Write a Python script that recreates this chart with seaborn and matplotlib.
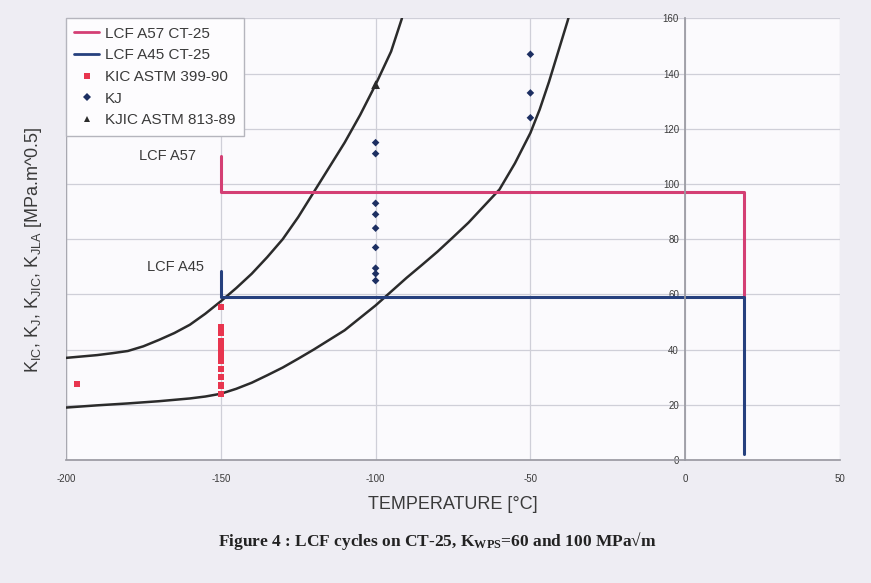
import matplotlib
matplotlib.use("Agg")
import matplotlib.pyplot as plt
import numpy as np
import pandas as pd
import seaborn as sns
from matplotlib.lines import Line2D

# ---------------- data ----------------
curve_a_T = [-200, -195, -190, -185, -180, -175, -170, -165, -160, -155, -150, -145,
             -140, -135, -130, -125, -120, -115, -110, -105, -100, -95, -91.5]
curve_a_K = [37, 37.5, 38, 38.7, 39.5, 41.2, 43.5, 46, 49, 53, 57.5, 62.3,
             67.5, 73.5, 80, 88, 97, 106, 115, 125, 136, 148, 160]

curve_b_T = [-200, -190, -180, -170, -160, -155, -150, -145, -140, -135, -130, -125,
             -120, -115, -110, -105, -100, -95, -90, -85, -80, -75, -70, -65, -60,
             -55, -50, -47, -44, -41, -38, -37.5]
curve_b_K = [19, 19.8, 20.5, 21.3, 22.3, 23, 24, 25.8, 28, 30.7, 33.5, 36.7,
             40, 43.5, 47, 51.5, 56, 61, 66, 70.7, 75.5, 80.7, 86, 92, 98,
             107.5, 118.5, 127, 137, 148, 159, 161]

lcf57_T = [-150, -150, 19, 19]
lcf57_K = [110, 97, 97, 59]
lcf45_T = [-150, -150, 19, 19]
lcf45_K = [68.5, 59, 59, 2]

kic_T = [-196.5] + [-150] * 11
kic_K = [27.5, 55.5, 48, 46, 43, 41, 38.5, 36, 33, 30, 27, 24]

kj_T = [-100] * 9 + [-50] * 3
kj_K = [115, 111, 93, 89, 84, 77, 69.5, 67.5, 65, 147, 133, 124]

kjic_T = [-100]
kjic_K = [136]

x_ticks = [-200, -150, -100, -50, 0, 50]
y_ticks = [0, 20, 40, 60, 80, 100, 120, 140, 160]

legend_labels = ["LCF A57 CT-25", "LCF A45 CT-25", "KIC ASTM 399-90", "KJ", "KJIC ASTM 813-89"]

# ---------------- style ----------------
sns.set_theme(style="white")
plt.rcParams["font.family"] = ["Liberation Sans", "DejaVu Sans"]
plt.rcParams["mathtext.fontset"] = "custom"
plt.rcParams["mathtext.rm"] = "Liberation Sans"
plt.rcParams["mathtext.it"] = "Liberation Sans"
plt.rcParams["mathtext.bf"] = "Liberation Serif:bold"

PINK = "#d43f74"
NAVY = "#26407e"
RED = "#e8354f"
KJBLUE = "#1d2f62"
BLACK = "#2b2b2b"
GRID = "#cfcfd8"
TXT = "#3a3a3a"

fig = plt.figure(figsize=(8.71, 5.83), dpi=100, facecolor="#eeedf3")
ax = fig.add_axes([66 / 871, 1 - 460 / 583, (840 - 66) / 871, (460 - 18.4) / 583])
ax.set_facecolor("#fbfafd")

# spine placement first (it resets tick objects)
for s in ["top", "right"]:
    ax.spines[s].set_visible(False)
ax.spines["left"].set_position(("data", 0))
ax.spines["left"].set_color("#9a9aa2")
ax.spines["bottom"].set_color("#9a9aa2")

# master curves
sns.lineplot(x=curve_a_T, y=curve_a_K, ax=ax, color=BLACK, lw=1.8, sort=False,
             estimator=None, label="_nolegend_")
sns.lineplot(x=curve_b_T, y=curve_b_K, ax=ax, color=BLACK, lw=1.8, sort=False,
             estimator=None, label="_nolegend_")

# LCF paths
sns.lineplot(x=lcf57_T, y=lcf57_K, ax=ax, color=PINK, lw=2.2, sort=False,
             estimator=None, label="_nolegend_")
sns.lineplot(x=lcf45_T, y=lcf45_K, ax=ax, color=NAVY, lw=2.2, sort=False,
             estimator=None, label="_nolegend_")

# points
sns.scatterplot(x=kic_T, y=kic_K, ax=ax, color=RED, marker="s", s=22,
                edgecolor="none", zorder=5, label="_nolegend_")
sns.scatterplot(x=kj_T, y=kj_K, ax=ax, color=KJBLUE, marker="D", s=15,
                edgecolor="none", zorder=5, label="_nolegend_")
sns.scatterplot(x=kjic_T, y=kjic_K, ax=ax, color=BLACK, marker="^", s=40,
                edgecolor="none", zorder=6, label="_nolegend_")

# axes
ax.set_xlim(-200, 50)
ax.set_ylim(0, 160)
ax.set_xticks(x_ticks)
ax.set_yticks(y_ticks)
ax.set_xticklabels([str(t) for t in x_ticks])
ax.set_yticklabels([str(t) for t in y_ticks])
ax.tick_params(axis="y", direction="inout", length=5, color="#9a9aa2", pad=2,
               labelsize=7, labelcolor=TXT)
ax.tick_params(axis="x", direction="out", length=4, color="#9a9aa2", pad=6,
               labelsize=7, labelcolor=TXT)
ax.grid(True, color=GRID, lw=0.9)
ax.set_axisbelow(True)
ax.axvline(-200, color="#a8a8b0", lw=1.0, zorder=1)

ax.set_xlabel("TEMPERATURE [°C]", fontsize=13, color=TXT, labelpad=9)
fig.text(0.038, (1 - 250 / 583),
         r"K$_{\mathrm{IC}}$, K$_{\mathrm{J}}$, K$_{\mathrm{JIC}}$, K$_{\mathrm{JLA}}$ [MPa.m^0.5]",
         rotation=90, ha="center", va="center", fontsize=13, color=TXT)

# annotations
ax.text(-158, 110, "LCF A57", ha="right", va="center", fontsize=10.5, color=TXT)
ax.text(-155.5, 70, "LCF A45", ha="right", va="center", fontsize=10.5, color=TXT)

# legend
handles = [
    Line2D([], [], color=PINK, lw=2),
    Line2D([], [], color=NAVY, lw=2),
    Line2D([], [], color=RED, marker="s", ls="none", markersize=4.5, markeredgewidth=0),
    Line2D([], [], color=KJBLUE, marker="D", ls="none", markersize=4, markeredgewidth=0),
    Line2D([], [], color=BLACK, marker="^", ls="none", markersize=4.5, markeredgewidth=0),
]
leg = ax.legend(handles, legend_labels, loc="upper left", bbox_to_anchor=(0, 1),
                borderaxespad=0, frameon=True, fancybox=False, edgecolor="#b5b5bd",
                facecolor="#fdfcfe", fontsize=11, handlelength=1.6, handletextpad=0.4,
                labelspacing=0.5, borderpad=0.55, framealpha=1)
for t in leg.get_texts():
    t.set_color(TXT)

# caption
cap = fig.text(0.502, 1 - 541 / 583,
               r"Figure 4 : LCF cycles on CT-25, K$_{\mathbf{WPS}}$=60 and 100 MPa√m",
               ha="center", va="center", fontsize=12.5, fontweight="bold",
               family=["Liberation Serif", "DejaVu Serif"], color="#222222")

fig.savefig("out.png", dpi=100, facecolor=fig.get_facecolor())
